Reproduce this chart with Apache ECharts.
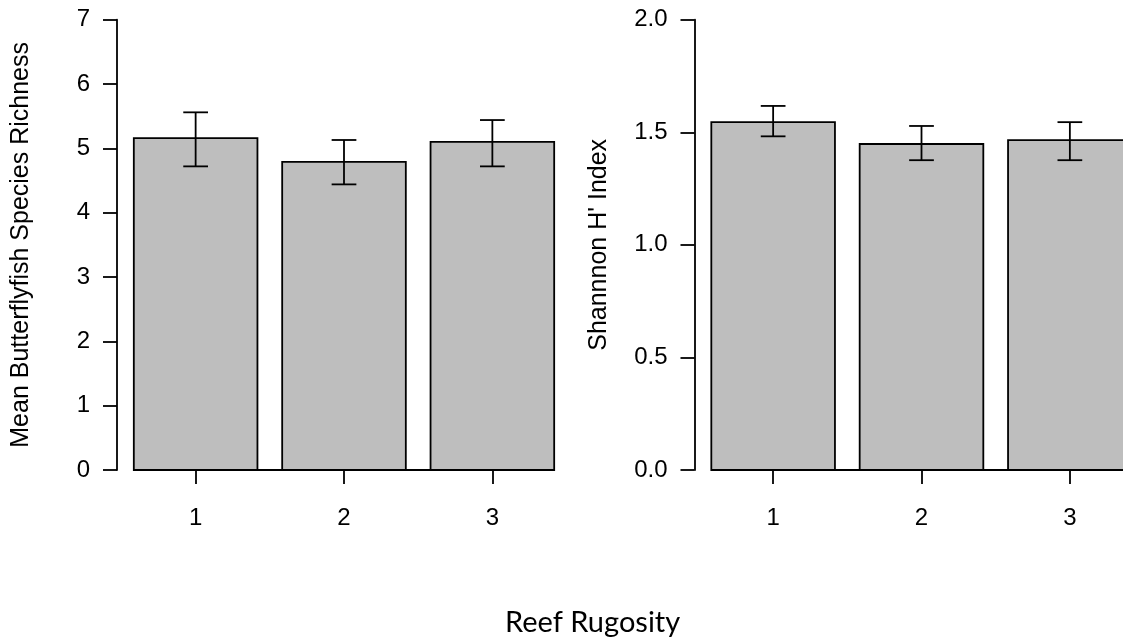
<!DOCTYPE html>
<html>
<head>
<meta charset="utf-8">
<title>Reef Rugosity</title>
<script src="https://cdn.jsdelivr.net/npm/echarts@6/dist/echarts.min.js"></script>
<style>
  html, body { margin: 0; padding: 0; background: #fff; }
  #chart { width: 1123px; height: 642px; }
</style>
</head>
<body>
<div id="chart"></div>
<script>
// reef rugosity groups and where R's barplot puts their bar centres
var categories = ['1', '2', '3'];
var barPos = [0.7, 1.9, 3.1];

// mean species richness with error bar ends
var richness = [5.16, 4.79, 5.10];
var richnessLow = [4.72, 4.44, 4.72];
var richnessHigh = [5.56, 5.13, 5.44];

// shannon index with error bar ends
var shannon = [1.545, 1.448, 1.465];
var shannonLow = [1.482, 1.376, 1.376];
var shannonHigh = [1.617, 1.528, 1.545];

var font = 'Liberation Sans, Arial, sans-serif';
var lw = 1.8;

function barData(vals) {
  return vals.map(function (v, i) { return [barPos[i], v]; });
}
function errData(lo, hi) {
  return lo.map(function (v, i) { return [barPos[i], v, hi[i]]; });
}

function renderBar(params, api) {
  var x = api.value(0);
  var p1 = api.coord([x - 0.5, api.value(1)]);
  var p2 = api.coord([x + 0.5, 0]);
  return {
    type: 'rect',
    shape: { x: p1[0], y: p1[1], width: p2[0] - p1[0], height: p2[1] - p1[1] },
    style: { fill: '#bebebe', stroke: '#000', lineWidth: lw }
  };
}

function renderErr(params, api) {
  var x = api.value(0);
  var lo = api.coord([x, api.value(1)]);
  var hi = api.coord([x, api.value(2)]);
  var half = (api.coord([x + 0.1, 0])[0] - lo[0]);
  var st = { stroke: '#000', lineWidth: lw };
  return {
    type: 'group',
    children: [
      { type: 'line', shape: { x1: lo[0], y1: lo[1], x2: hi[0], y2: hi[1] }, style: st },
      { type: 'line', shape: { x1: lo[0] - half, y1: lo[1], x2: lo[0] + half, y2: lo[1] }, style: st },
      { type: 'line', shape: { x1: hi[0] - half, y1: hi[1], x2: hi[0] + half, y2: hi[1] }, style: st }
    ]
  };
}

function xAxis(idx) {
  return {
    type: 'value',
    gridIndex: idx,
    min: 0.064,
    max: 3.736,
    axisLine: { show: false },
    splitLine: { show: false },
    axisTick: { show: true, customValues: barPos, length: 14, lineStyle: { color: '#000', width: lw } },
    axisLabel: {
      customValues: barPos,
      margin: 36,
      fontSize: 24,
      fontFamily: font,
      color: '#000',
      formatter: function (v) {
        var i = barPos.indexOf(+v.toFixed(1));
        return i >= 0 ? categories[i] : '';
      }
    }
  };
}

function yAxis(idx, max, interval, name, digits) {
  return {
    type: 'value',
    gridIndex: idx,
    min: 0,
    max: max,
    interval: interval,
    name: name,
    nameLocation: 'middle',
    nameGap: 83,
    nameTextStyle: { fontSize: 25, fontFamily: font, color: '#000' },
    axisLine: { show: true, lineStyle: { color: '#000', width: lw } },
    axisTick: { show: true, length: 14, lineStyle: { color: '#000', width: lw } },
    splitLine: { show: false },
    axisLabel: {
      margin: 27,
      fontSize: 24,
      fontFamily: font,
      color: '#000',
      formatter: function (v) { return v.toFixed(digits); }
    }
  };
}

var options = {
  animation: false,
  backgroundColor: '#fff',
  title: {
    text: 'Reef Rugosity',
    left: 505,
    top: 608,
    padding: 0,
    textStyle: { fontFamily: 'Lato, sans-serif', fontSize: 29, fontWeight: 'normal', color: '#000' }
  },
  grid: [
    { left: 117, top: 19.7, width: 454, height: 450.3, outerBoundsMode: 'none' },
    { left: 694.5, top: 19.7, width: 454, height: 450.3, outerBoundsMode: 'none' }
  ],
  xAxis: [xAxis(0), xAxis(1)],
  yAxis: [
    yAxis(0, 7, 1, 'Mean Butterflyfish Species Richness', 0),
    yAxis(1, 2, 0.5, "Shannnon H' Index", 1)
  ],
  series: [
    { type: 'custom', xAxisIndex: 0, yAxisIndex: 0, renderItem: renderBar, data: barData(richness) },
    { type: 'custom', xAxisIndex: 0, yAxisIndex: 0, renderItem: renderErr, data: errData(richnessLow, richnessHigh), z: 3 },
    {
      type: 'line', xAxisIndex: 0, yAxisIndex: 0, symbol: 'none',
      lineStyle: { color: '#000', width: lw },
      data: [[barPos[0], 0], [barPos[2], 0]]
    },
    { type: 'custom', xAxisIndex: 1, yAxisIndex: 1, renderItem: renderBar, data: barData(shannon) },
    { type: 'custom', xAxisIndex: 1, yAxisIndex: 1, renderItem: renderErr, data: errData(shannonLow, shannonHigh), z: 3 },
    {
      type: 'line', xAxisIndex: 1, yAxisIndex: 1, symbol: 'none',
      lineStyle: { color: '#000', width: lw },
      data: [[barPos[0], 0], [barPos[2], 0]]
    }
  ]
};

var dom = document.getElementById('chart');
var instance = echarts.init(dom);
instance.setOption(options);
</script>
</body>
</html>
